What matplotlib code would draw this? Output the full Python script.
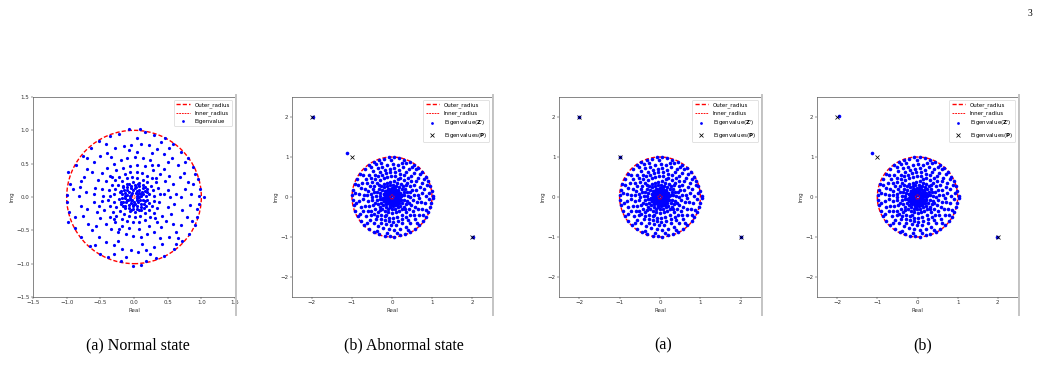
import matplotlib.pyplot as plt
from matplotlib.patches import Circle
from matplotlib.lines import Line2D
import numpy as np

# eigenvalues (real + imag*j)
normal_eig = [
    # outer ring
    1.04+0.00j, 0.98+0.12j, 0.97-0.10j, 0.95+0.27j, 0.93-0.30j, 0.88+0.45j, 0.90-0.42j, 0.80+0.58j,
    0.82-0.55j, 0.70+0.68j, 0.72-0.66j, 0.58+0.80j, 0.60-0.78j, 0.46+0.88j, 0.45-0.89j, 0.30+0.93j,
    0.32-0.92j, 0.17+0.97j, 0.18-0.96j, 0.09+1.02j, 0.10-1.02j, -0.07+1.02j, -0.02-1.03j, -0.22+0.95j,
    -0.20-0.96j, -0.36+0.91j, -0.38-0.90j, -0.52+0.84j, -0.50-0.85j, -0.64+0.74j, -0.66-0.73j,
    -0.76+0.62j, -0.78-0.60j, -0.86+0.48j, -0.87-0.47j, -0.98+0.38j, -0.98-0.38j, -0.95+0.20j,
    -0.96-0.22j, -0.99+0.03j, -0.99-0.07j, 0.96+0.02j, 0.91+0.35j, 0.86-0.36j, 0.75+0.52j, 0.66-0.62j,
    0.52+0.73j, 0.24-0.86j, 0.05+0.88j, -0.12-0.90j, -0.42+0.80j, -0.58-0.72j, -0.70+0.58j,
    -0.88-0.30j, -0.90+0.12j, 0.88+0.20j, 0.93-0.18j, 0.40+0.82j, -0.30-0.85j, 0.62-0.70j,
    # r ~ 0.65-0.85
    0.84+0.05j, 0.83-0.12j, 0.80+0.22j, 0.78-0.30j, 0.74+0.36j, 0.70-0.42j, 0.65+0.48j, 0.63-0.52j,
    0.56+0.58j, 0.52-0.60j, 0.45+0.65j, 0.42-0.70j, 0.34+0.72j, 0.30-0.75j, 0.22+0.78j, 0.18-0.80j,
    0.10+0.80j, 0.06-0.82j, -0.04+0.78j, -0.05-0.80j, -0.15+0.76j, -0.18-0.78j, -0.28+0.74j,
    -0.30-0.72j, -0.40+0.66j, -0.42-0.68j, -0.50+0.62j, -0.52-0.60j, -0.60+0.52j, -0.62-0.50j,
    -0.70+0.42j, -0.68-0.40j, -0.75+0.30j, -0.76-0.28j, -0.80+0.15j, -0.79-0.14j, -0.82+0.02j,
    -0.78+0.24j, 0.76+0.12j, 0.72-0.20j, 0.68+0.30j, 0.58-0.40j, 0.50+0.52j, 0.38-0.62j, 0.26+0.66j,
    0.12-0.70j, -0.08+0.70j, -0.24-0.66j, -0.34+0.60j, -0.56-0.44j, -0.62+0.38j, -0.70-0.18j,
    -0.72+0.08j, 0.70+0.00j, 0.04+0.68j,
    # r ~ 0.4-0.65
    0.62+0.05j, 0.60-0.10j, 0.58+0.20j, 0.55-0.25j, 0.52+0.32j, 0.48-0.36j, 0.44+0.42j, 0.40-0.45j,
    0.35+0.48j, 0.30-0.52j, 0.24+0.55j, 0.20-0.56j, 0.14+0.58j, 0.10-0.60j, 0.02+0.60j, -0.02-0.58j,
    -0.10+0.58j, -0.12-0.56j, -0.20+0.55j, -0.24-0.52j, -0.30+0.50j, -0.34-0.48j, -0.40+0.44j,
    -0.42-0.40j, -0.48+0.36j, -0.50-0.32j, -0.54+0.26j, -0.55-0.22j, -0.58+0.14j, -0.60-0.08j,
    -0.60+0.04j, 0.50+0.10j, 0.50-0.15j, 0.46+0.24j, 0.42-0.28j, 0.38+0.34j, 0.34-0.38j, 0.28+0.40j,
    0.22-0.44j, 0.16+0.46j, 0.08-0.48j, 0.04+0.48j, -0.06+0.47j, -0.08-0.46j, -0.16+0.44j,
    -0.18-0.44j, -0.26+0.40j, -0.28-0.38j, -0.36+0.32j, -0.36-0.30j, -0.42+0.24j, -0.44-0.20j,
    -0.47+0.12j, -0.48-0.06j, -0.46+0.02j, 0.54+0.00j, 0.44+0.05j, 0.26+0.48j, -0.22-0.48j, -0.52-0.14j,
    # r ~ 0.2-0.4
    0.38+0.04j, 0.37-0.08j, 0.36+0.14j, 0.34-0.16j, 0.32+0.22j, 0.30-0.24j, 0.26+0.28j, 0.24-0.30j,
    0.20+0.32j, 0.16-0.34j, 0.12+0.36j, 0.08-0.37j, 0.04+0.38j, -0.02-0.38j, -0.06+0.37j, -0.10-0.36j,
    -0.14+0.35j, -0.18-0.33j, -0.22+0.30j, -0.26-0.28j, -0.28+0.26j, -0.31-0.22j, -0.33+0.18j,
    -0.35-0.14j, -0.37+0.10j, -0.38-0.04j, -0.36+0.02j, 0.30+0.02j, 0.29-0.06j, 0.28+0.10j,
    0.27-0.13j, 0.25+0.17j, 0.22-0.20j, 0.19+0.22j, 0.16-0.24j, 0.13+0.26j, 0.09-0.28j, 0.05+0.29j,
    0.01-0.30j, -0.03+0.30j, -0.07-0.29j, -0.11+0.28j, -0.15-0.26j, -0.18+0.24j, -0.21-0.21j,
    -0.24+0.18j, -0.26-0.15j, -0.28+0.12j, -0.29-0.08j, -0.30+0.05j, 0.22+0.04j, 0.22-0.09j,
    0.20+0.12j, 0.18-0.14j, 0.14+0.18j, 0.11-0.20j, 0.07+0.21j, 0.02-0.22j, -0.02+0.22j, -0.06-0.21j,
    -0.10+0.20j, -0.14-0.17j, -0.17+0.15j, -0.19-0.11j, -0.21+0.08j, -0.22-0.03j, 0.33+0.28j,
    -0.32+0.30j, 0.31-0.31j, -0.30-0.33j,
    # centre
    0.18+0.02j, 0.17-0.06j, 0.16+0.09j, 0.15-0.11j, 0.13+0.13j, 0.11-0.15j, 0.08+0.17j, 0.05-0.18j,
    0.02+0.18j, -0.02-0.18j, -0.05+0.17j, -0.08-0.16j, -0.11+0.15j, -0.13-0.13j, -0.15+0.10j,
    -0.17-0.07j, -0.18+0.04j, -0.18-0.01j, 0.14+0.04j, 0.13-0.04j, 0.12+0.08j, 0.10-0.10j, 0.08+0.11j,
    0.05-0.13j, 0.02+0.13j, -0.01-0.14j, -0.04+0.13j, -0.07-0.12j, -0.10+0.10j, -0.12-0.08j,
    -0.13+0.06j, -0.14-0.02j, -0.13+0.01j, 0.10+0.02j, 0.09-0.05j, 0.08+0.06j, 0.06-0.08j, 0.04+0.09j,
    0.01-0.10j, -0.02+0.10j, -0.05-0.09j, -0.07+0.07j, -0.09-0.04j, -0.10+0.03j, 0.07+0.00j,
    0.06+0.04j, 0.05-0.04j, 0.03+0.06j, 0.00-0.07j, -0.03+0.06j, -0.05-0.04j, -0.06+0.02j,
    -0.06-0.01j, 0.04+0.02j, 0.04-0.02j, -0.03-0.04j, -0.04+0.03j, 0.19+0.07j, 0.19-0.05j,
    -0.19+0.09j, -0.19-0.08j, 0.06+0.19j, -0.07+0.20j, 0.07-0.20j, -0.05-0.20j, 0.16+0.15j,
    -0.16+0.16j, 0.15-0.16j, -0.16-0.14j, 0.11+0.05j, -0.11-0.05j, 0.03+0.15j, -0.02-0.12j,
]

# the dense disc looks the same in the three right-hand panels
disc_eig = [
    1.03+0.02j, 1.03-0.03j, 0.99+0.15j, 0.98-0.14j, 0.95+0.28j, 0.96-0.25j, 0.90+0.40j, 0.91-0.38j,
    0.84+0.50j, 0.85-0.50j, 0.76+0.62j, 0.78-0.60j, 0.66+0.72j, 0.68-0.70j, 0.55+0.80j, 0.57-0.79j,
    0.44+0.87j, 0.45-0.87j, 0.30+0.93j, 0.32-0.92j, 0.18+0.97j, 0.20-0.96j, 0.05+0.99j, 0.06-0.99j,
    -0.08+0.99j, -0.05-0.98j, -0.20+0.96j, -0.18-0.97j, -0.33+0.93j, -0.32-0.93j, -0.46+0.87j,
    -0.44-0.88j, -0.58+0.79j, -0.57-0.80j, -0.68+0.70j, -0.69-0.70j, -0.79+0.58j, -0.78-0.60j,
    -0.87+0.46j, -0.86-0.48j, -0.93+0.32j, -0.92-0.34j, -0.97+0.18j, -0.96-0.20j, -0.99+0.04j,
    -0.98-0.07j, 0.93+0.10j, 0.92-0.06j, 0.88+0.30j, 0.86-0.32j, 0.80+0.45j, 0.78-0.44j, 0.70+0.58j,
    0.62-0.66j, 0.50+0.75j, 0.40-0.83j, 0.24+0.86j, 0.12-0.90j, -0.02+0.92j, -0.12-0.90j, -0.28+0.86j,
    -0.38-0.84j, -0.52+0.76j, -0.62-0.64j, -0.72+0.56j, -0.80-0.42j, -0.86+0.30j, -0.90-0.15j,
    -0.92+0.10j, 0.60+0.70j, -0.40+0.82j, 0.35+0.85j,
    0.84+0.02j, 0.82-0.16j, 0.80+0.20j, 0.76-0.30j, 0.74+0.34j, 0.68-0.44j, 0.64+0.48j, 0.58-0.56j,
    0.54+0.60j, 0.46-0.66j, 0.42+0.70j, 0.34-0.74j, 0.28+0.76j, 0.20-0.80j, 0.14+0.80j, 0.05-0.82j,
    0.02+0.82j, -0.08-0.80j, -0.12+0.80j, -0.22-0.78j, -0.24+0.76j, -0.34-0.73j, -0.36+0.72j,
    -0.46-0.66j, -0.48+0.64j, -0.56-0.58j, -0.58+0.56j, -0.64-0.48j, -0.66+0.46j, -0.72-0.36j,
    -0.74+0.34j, -0.78-0.24j, -0.78+0.22j, -0.82-0.10j, -0.82+0.08j, 0.74+0.10j, 0.72-0.12j,
    0.70+0.24j, 0.66-0.30j, 0.60+0.40j, 0.54-0.46j, 0.48+0.52j, 0.40-0.58j, 0.36+0.62j, 0.26-0.66j,
    0.18+0.68j, 0.10-0.70j, 0.06+0.72j, -0.02-0.70j, -0.06+0.70j, -0.14-0.68j, -0.18+0.68j,
    -0.28-0.64j, -0.30+0.62j, -0.40-0.56j, -0.42+0.56j, -0.52-0.46j, -0.52+0.48j, -0.60-0.36j,
    -0.62+0.36j, -0.68-0.22j, -0.68+0.20j, -0.72-0.04j, -0.71+0.06j, 0.68-0.02j,
    0.64+0.04j, 0.62-0.12j, 0.60+0.18j, 0.58-0.24j, 0.55+0.30j, 0.52-0.34j, 0.48+0.40j, 0.44-0.44j,
    0.40+0.48j, 0.36-0.50j, 0.30+0.54j, 0.26-0.56j, 0.20+0.58j, 0.14-0.60j, 0.08+0.62j, 0.02-0.62j,
    -0.04+0.62j, -0.08-0.60j, -0.14+0.60j, -0.18-0.58j, -0.24+0.56j, -0.28-0.54j, -0.34+0.52j,
    -0.38-0.48j, -0.42+0.46j, -0.46-0.42j, -0.50+0.38j, -0.52-0.34j, -0.56+0.28j, -0.58-0.22j,
    -0.60+0.16j, -0.61-0.10j, -0.62+0.04j, 0.54+0.06j, 0.52-0.08j, 0.50+0.18j, 0.48-0.20j,
    0.46+0.28j, 0.42-0.30j, 0.38+0.36j, 0.34-0.38j, 0.30+0.42j, 0.24-0.46j, 0.20+0.48j, 0.12-0.50j,
    0.08+0.52j, 0.02-0.52j, -0.02+0.52j, -0.08-0.52j, -0.12+0.50j, -0.18-0.48j, -0.20+0.48j,
    -0.28-0.44j, -0.30+0.42j, -0.36-0.38j, -0.38+0.36j, -0.42-0.30j, -0.44+0.28j, -0.48-0.20j,
    -0.48+0.20j, -0.51-0.08j, -0.52+0.08j, -0.50+0.00j, 0.46+0.00j, 0.44+0.12j, 0.42-0.14j,
    -0.44+0.12j, -0.43-0.14j, 0.14+0.44j, -0.14-0.44j,
    0.39+0.02j, 0.38-0.10j, 0.37+0.12j, 0.35-0.18j, 0.33+0.20j, 0.30-0.25j, 0.28+0.27j, 0.24-0.31j,
    0.22+0.32j, 0.17-0.35j, 0.13+0.36j, 0.09-0.38j, 0.05+0.39j, 0.00-0.39j, -0.04+0.38j, -0.09-0.37j,
    -0.12+0.36j, -0.17-0.35j, -0.21+0.33j, -0.24-0.31j, -0.27+0.28j, -0.30-0.25j, -0.33+0.21j,
    -0.35-0.17j, -0.37+0.12j, -0.38-0.08j, -0.39+0.03j, 0.31+0.04j, 0.30-0.08j, 0.29+0.12j,
    0.26-0.15j, 0.24+0.19j, 0.21-0.22j, 0.18+0.24j, 0.14-0.26j, 0.11+0.28j, 0.07-0.29j, 0.03+0.30j,
    -0.01-0.31j, -0.05+0.30j, -0.09-0.29j, -0.12+0.28j, -0.16-0.26j, -0.19+0.24j, -0.22-0.21j,
    -0.25+0.18j, -0.27-0.14j, -0.29+0.10j, -0.30-0.06j, -0.31+0.02j, 0.23+0.03j, 0.22-0.08j,
    0.21+0.11j, 0.18-0.14j, 0.15+0.17j, 0.12-0.19j, 0.08+0.21j, 0.03-0.22j, -0.01+0.23j, -0.06-0.22j,
    -0.10+0.20j, -0.14-0.17j, -0.17+0.14j, -0.20-0.11j, -0.21+0.07j, -0.22-0.03j, 0.34+0.29j,
    -0.33+0.30j, 0.32-0.31j, -0.31-0.32j,
    0.19+0.03j, 0.18-0.07j, 0.17+0.10j, 0.15-0.12j, 0.13+0.14j, 0.10-0.16j, 0.07+0.17j, 0.04-0.18j,
    0.01+0.19j, -0.03-0.19j, -0.06+0.18j, -0.09-0.16j, -0.12+0.14j, -0.14-0.12j, -0.16+0.09j,
    -0.17-0.06j, -0.18+0.03j, -0.19-0.02j, 0.15+0.03j, 0.14-0.04j, 0.12+0.07j, 0.11-0.09j, 0.08+0.11j,
    0.06-0.12j, 0.03+0.14j, 0.00-0.14j, -0.04+0.13j, -0.06-0.12j, -0.09+0.10j, -0.11-0.08j,
    -0.13+0.05j, -0.14-0.03j, -0.13+0.00j, 0.10+0.01j, 0.09-0.04j, 0.08+0.06j, 0.06-0.07j, 0.04+0.09j,
    0.02-0.09j, -0.02+0.09j, -0.05-0.08j, -0.07+0.06j, -0.09-0.03j, -0.09+0.02j, 0.06+0.02j,
    0.05+0.05j, 0.05-0.03j, 0.02+0.06j, 0.01-0.06j, -0.03+0.06j, -0.04-0.05j, -0.06+0.02j,
    -0.06-0.01j, 0.20+0.08j, 0.20-0.05j, -0.20+0.08j, -0.19-0.09j, 0.06+0.20j, -0.08+0.20j,
    0.08-0.20j, -0.06-0.20j, 0.16+0.16j, -0.15+0.16j, 0.16-0.15j, -0.16-0.15j, 0.12+0.04j,
    -0.12-0.05j, 0.02+0.16j, -0.01-0.12j, 0.26+0.06j, -0.25-0.05j, 0.05+0.26j, -0.04-0.25j,
]

# outlying eigenvalues (blue) and eigenvalues of P (black x), per panel
outlier_b = [-1.97+2.01j, -1.13+1.10j, 2.02-1.00j]
outlier_c = [-2.00+2.00j, -1.00+1.01j, 2.00-1.00j]
outlier_d = [-1.95+2.02j, -1.13+1.10j, 1.98-1.00j]
p_eig = [-2+2j, -1+1j, 2-1j]

outer_radius = 1.0
inner_radius = [0.02, 0.05, 0.05, 0.05]

captions = ['(a) Normal state', '(b) Abnormal state', '(a)', '(b)']
caption_x = [138, 404, 663, 923]

ticks_normal = [-1.5, -1.0, -0.5, 0.0, 0.5, 1.0, 1.5]
ticks_abn = [-2, -1, 0, 1, 2]

W, H = 1043, 365
fig = plt.figure(figsize=(W / 100, H / 100), dpi=100)
fig.patch.set_facecolor('white')

# axes boxes in pixels: left, top, width, height
boxes = [(33, 97, 202, 200), (292, 97, 200, 200), (559, 97, 202, 200), (817, 97, 201, 200)]

fs = 4.0
x_kw = dict(ls='none', marker='x', ms=3.3, mew=0.55, color='black')
outer_kw = dict(color='red', lw=1.0, ls=(0, (3, 1.5)))
inner_kw = dict(color='red', lw=0.65, ls=(0, (2, 1.0)))

panels = [
    (normal_eig, None, ticks_normal, 1.5, 2.3),
    (disc_eig, outlier_b, ticks_abn, 2.5, 2.6),
    (disc_eig, outlier_c, ticks_abn, 2.5, 2.6),
    (disc_eig, outlier_d, ticks_abn, 2.5, 2.6),
]

for i, (eig, outl, ticks, lim, ms) in enumerate(panels):
    blue_kw = dict(ls='none', marker='o', ms=ms, mew=0, color='blue')
    l, t, w, h = boxes[i]
    ax = fig.add_axes([l / W, 1 - (t + h) / H, w / W, h / H])
    ax.add_patch(Circle((0, 0), outer_radius, fill=False, ec='red', lw=outer_kw['lw'],
                        ls=outer_kw['ls'], zorder=2))
    vals = np.array(eig)
    ax.plot(vals.real, vals.imag, zorder=3, **blue_kw)
    if outl is not None:
        o = np.array(outl)
        ax.plot(o.real, o.imag, zorder=3, **blue_kw)
        p = np.array(p_eig)
        ax.plot(p.real, p.imag, zorder=5, **x_kw)
    ax.add_patch(Circle((0, 0), inner_radius[i], fill=False, ec='red', lw=inner_kw['lw'],
                        ls=inner_kw['ls'], zorder=4))
    ax.set_xlim(-lim, lim)
    ax.set_ylim(-lim, lim)
    ax.set_xticks(ticks)
    ax.set_yticks(ticks)
    ax.tick_params(labelsize=fs, length=1.3, width=0.35, pad=1.2, colors='#333333')
    for s in ax.spines.values():
        s.set_linewidth(0.45)
        s.set_color('#444444')
    ax.set_xlabel('Real', fontsize=fs, labelpad=1.5, color='#333333')
    ax.set_ylabel('Img', fontsize=fs, labelpad=1.5, color='#333333')

    handles = [Line2D([], [], **outer_kw),
               Line2D([], [], **inner_kw),
               Line2D([], [], ls='none', marker='o', ms=2.0, mew=0, color='blue')]
    labels = ['Outer_radius', 'Inner_radius']
    if outl is None:
        labels.append('Eigenvalue')
    else:
        labels += [r'Eigenvalue($\mathbf{Z}^{\prime}$)', r'Eigenvalues($\mathbf{P}$)']
        handles.append(Line2D([], [], **x_kw))
    leg = ax.legend(handles, labels, loc='upper right', fontsize=fs, handlelength=2.4,
                    handletextpad=0.9, borderaxespad=0.5, framealpha=1)
    leg.get_frame().set_linewidth(0.4)
    leg.get_frame().set_edgecolor('#cccccc')

    # grey edge of the embedded image
    xr = (l + w + 1) / W
    fig.add_artist(Line2D([xr, xr], [1 - 95 / H, 1 - 315 / H], color='#c4c4c4', lw=1.4))

    fig.text(caption_x[i] / W, 1 - 345 / H, captions[i], ha='center', va='center',
             fontsize=11.5, family='Liberation Serif')

fig.text(1030 / W, 1 - 13 / H, '3', ha='center', va='center', fontsize=7,
         family='Liberation Serif')

fig.savefig('out.png', dpi=100, facecolor='white')
